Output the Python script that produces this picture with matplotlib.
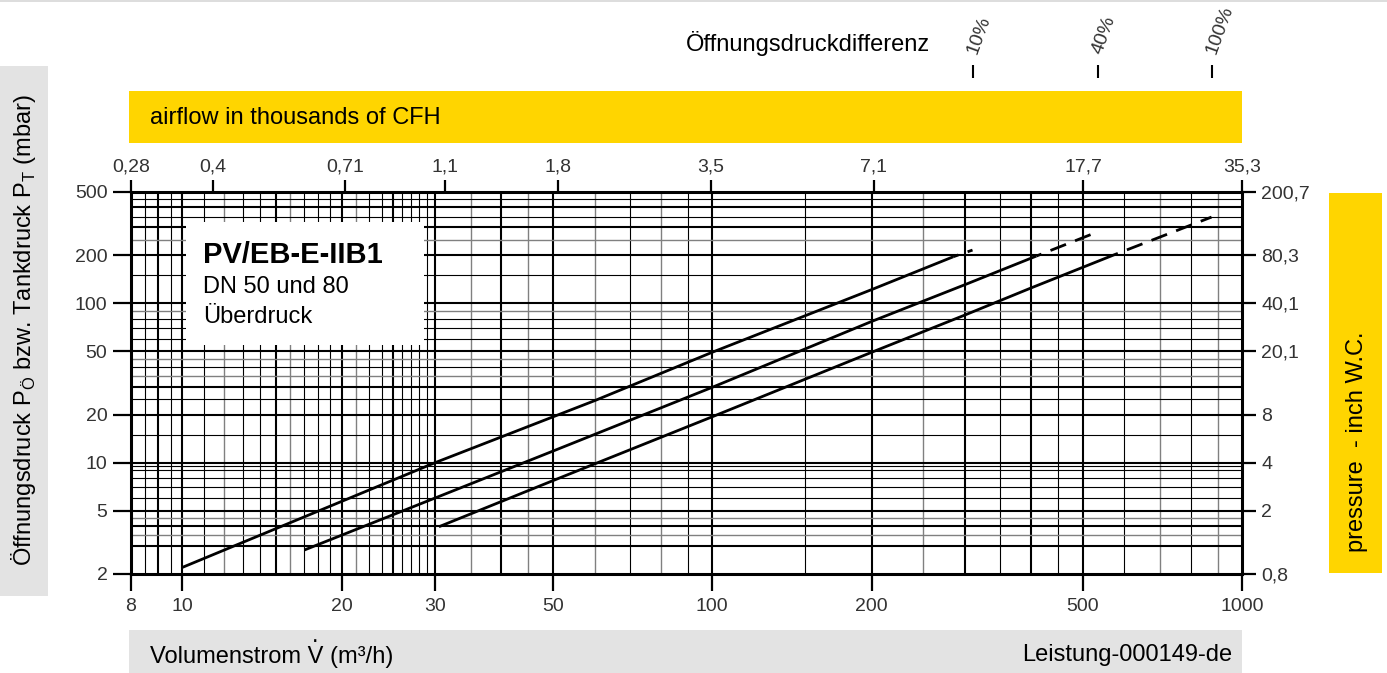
import matplotlib.pyplot as plt
from matplotlib.patches import Rectangle
from matplotlib.ticker import NullLocator

plt.rcParams['font.family'] = ['Liberation Sans', 'DejaVu Sans']

# volume flow (m3/h) vs opening pressure (mbar)
flow_10 = [10, 30, 60, 100, 200, 285, 310]
pres_10 = [2.2, 10, 24.5, 49.3, 122, 196, 216]
flow_40 = [17, 30, 50, 100, 200, 300, 409, 534]
pres_40 = [2.83, 6, 11.8, 29.7, 77, 131, 198, 281]
flow_100 = [30.5, 50, 100, 200, 300, 400, 570, 876]
pres_100 = [3.96, 7.7, 19.4, 49.3, 84.5, 125, 200, 348]
pct_labels = ['10%', '40%', '100%']

# axis ticks
flow_ticks = [8, 10, 20, 30, 50, 100, 200, 500, 1000]
pres_ticks = [2, 5, 10, 20, 50, 100, 200, 500]
cfh_ticks = [0.28, 0.4, 0.71, 1.1, 1.8, 3.5, 7.1, 17.7, 35.3]
wc_ticks = [0.8, 2, 4, 8, 20.1, 40.1, 80.3, 200.7]

# grid of the chart paper
grid_x_bold = [9, 10, 15, 20, 25, 30, 40, 50, 100, 200, 300, 400, 500]
grid_x_thin = [8.5, 9.5, 11, 13, 14, 17, 18, 19, 22.5, 23.8, 26, 27, 28, 29,
               70, 90, 150, 350, 450, 600, 800]
grid_x_gray = [12, 16, 21.3, 35, 45, 60, 80, 250, 700, 900]
grid_y_bold = [3, 4, 5, 10, 20, 30, 50, 100, 200, 300, 400]
grid_y_thin = [6, 7, 8, 9, 9.5, 15, 25, 40, 60, 70, 80, 150, 350, 450]
grid_y_gray = [3.5, 4.5, 35, 45, 90, 250]

W, H = 1387, 673
yellow = '#FFD500'
light = '#E3E3E3'
txt = '#333333'

fig = plt.figure(figsize=(W / 100, H / 100), dpi=100)


def box(x0, y0, x1, y1):
    # pixel box (origin top left) -> figure fractions
    return x0 / W, 1 - y1 / H, (x1 - x0) / W, (y1 - y0) / H


def band(x0, y0, x1, y1, color):
    l, b, w, h = box(x0, y0, x1, y1)
    fig.add_artist(Rectangle((l, b), w, h, transform=fig.transFigure,
                             color=color, lw=0, zorder=0))


def ftext(x, y, s, **kw):
    return fig.text(x / W, 1 - y / H, s, **kw)


# coloured bands round the chart
band(0, 0, W, 2, '#DDDDDD')
band(129, 91, 1242, 143, yellow)
band(1329, 193, 1382, 573, yellow)
band(0, 66, 48, 596, light)
band(129, 630, 1242, 673, light)

ax = fig.add_axes(box(131, 192, 1242, 574))
ax.set_xscale('log')
ax.set_yscale('log')
ax.set_xlim(flow_ticks[0], flow_ticks[-1])
ax.set_ylim(pres_ticks[0], pres_ticks[-1])

for v in grid_x_bold:
    ax.axvline(v, color='black', lw=1.5, zorder=1)
for v in grid_x_thin:
    ax.axvline(v, color='black', lw=0.8, zorder=1)
for v in grid_x_gray:
    ax.axvline(v, color='#808080', lw=1.0, zorder=1)
for v in grid_y_bold:
    ax.axhline(v, color='black', lw=1.5, zorder=1)
for v in grid_y_thin:
    ax.axhline(v, color='black', lw=0.8, zorder=1)
for v in grid_y_gray:
    ax.axhline(v, color='#808080', lw=1.0, zorder=1)

# white label box
ax.add_patch(Rectangle((0.0495, 0.5995), 0.2142, 0.322, transform=ax.transAxes,
                       facecolor='white', lw=0, zorder=3))
ftext(203, 255, 'PV/EB-E-IIB1', fontsize=21, fontweight='bold', va='center', zorder=5)
ftext(203, 287, 'DN 50 und 80', fontsize=17, va='center', zorder=5)
ftext(203, 317, 'Überdruck', fontsize=17, va='center', zorder=5)

# the curves: solid up to ~200 mbar, dashed above
for fl, pr in [(flow_10, pres_10), (flow_40, pres_40), (flow_100, pres_100)]:
    k = next(i for i, p in enumerate(pr) if p >= 195)
    ax.plot(fl[:k + 1], pr[:k + 1], color='black', lw=2.0, zorder=4,
            solid_capstyle='butt')
    ax.plot(fl[k:], pr[k:], color='black', lw=2.0, zorder=4,
            linestyle=(4, (6, 3.5)), dash_capstyle='butt')

ax.set_xticks(flow_ticks, [str(t) for t in flow_ticks])
ax.set_yticks(pres_ticks, [str(t) for t in pres_ticks])
ax.xaxis.set_minor_locator(NullLocator())
ax.yaxis.set_minor_locator(NullLocator())
ax.tick_params(axis='x', length=12, width=1.6, labelsize=14, labelcolor=txt, pad=5)
ax.tick_params(axis='y', length=13, width=1.6, labelsize=14, labelcolor=txt, pad=4)
for s in ax.spines.values():
    s.set_linewidth(2.2)
    s.set_zorder(6)

# top axis: thousands of CFH, its printed ends sit on the chart edges
cfh = ax.twiny()
cfh.set_xscale('log')
cfh.set_xlim(cfh_ticks[0], cfh_ticks[-1])
cfh.set_xticks(cfh_ticks, [str(t).replace('.', ',') for t in cfh_ticks])
cfh.xaxis.set_minor_locator(NullLocator())
cfh.tick_params(length=9, width=1.6, labelsize=14, labelcolor=txt, pad=3)

# right axis: inch W.C.
wc = ax.twinx()
wc.set_yscale('log')
wc.set_ylim(wc_ticks[0], wc_ticks[-1])
wc.set_yticks(wc_ticks, [str(t).replace('.', ',') for t in wc_ticks])
wc.yaxis.set_minor_locator(NullLocator())
wc.tick_params(length=10, width=1.6, labelsize=14, labelcolor=txt, pad=4)
for a in (cfh, wc):
    for s in a.spines.values():
        s.set_visible(False)

# opening pressure difference marks at the curve ends
pct = ax.secondary_xaxis(1.298)
pct.set_xticks([flow_10[-1], flow_40[-1], flow_100[-1]], pct_labels)
pct.xaxis.set_minor_locator(NullLocator())
pct.spines['top'].set_visible(False)
pct.tick_params(length=9.5, width=1.5, labelsize=14, labelcolor=txt, pad=8)
plt.setp(pct.get_xticklabels(), rotation=70, ha='left', va='center',
         rotation_mode='anchor')

ftext(930, 43, 'Öffnungsdruckdifferenz', fontsize=17, ha='right', va='center')
ftext(150, 118, 'airflow in thousands of CFH', fontsize=17, va='center')
ftext(1232, 655, 'Leistung-000149-de', fontsize=17, ha='right', va='center')
ftext(24, 330, 'Öffnungsdruck P$_\\mathregular{Ö}$ bzw. Tankdruck P$_\\mathregular{T}$ (mbar)',
      fontsize=17, rotation=90, ha='center', va='center')
ftext(1357, 552, 'pressure  - inch W.C.', fontsize=17, rotation=90,
      ha='left', va='center', rotation_mode='anchor')

# x label, with the dot put over the V by hand
ftext(150, 663, 'Volumenstrom V (m³/h)', fontsize=17, va='baseline')
r = fig.canvas.get_renderer()
pre = ftext(150, 663, 'Volumenstrom ', fontsize=17, va='baseline')
vv = ftext(150, 663, 'Volumenstrom V', fontsize=17, va='baseline')
x_dot = (pre.get_window_extent(r).x1 + vv.get_window_extent(r).x1) / 2
pre.remove()
vv.remove()
fig.text(x_dot / fig.dpi / fig.get_figwidth(), 1 - 642 / H, '.', fontsize=17,
         ha='center', va='baseline')

plt.savefig('out.png', dpi=100)
